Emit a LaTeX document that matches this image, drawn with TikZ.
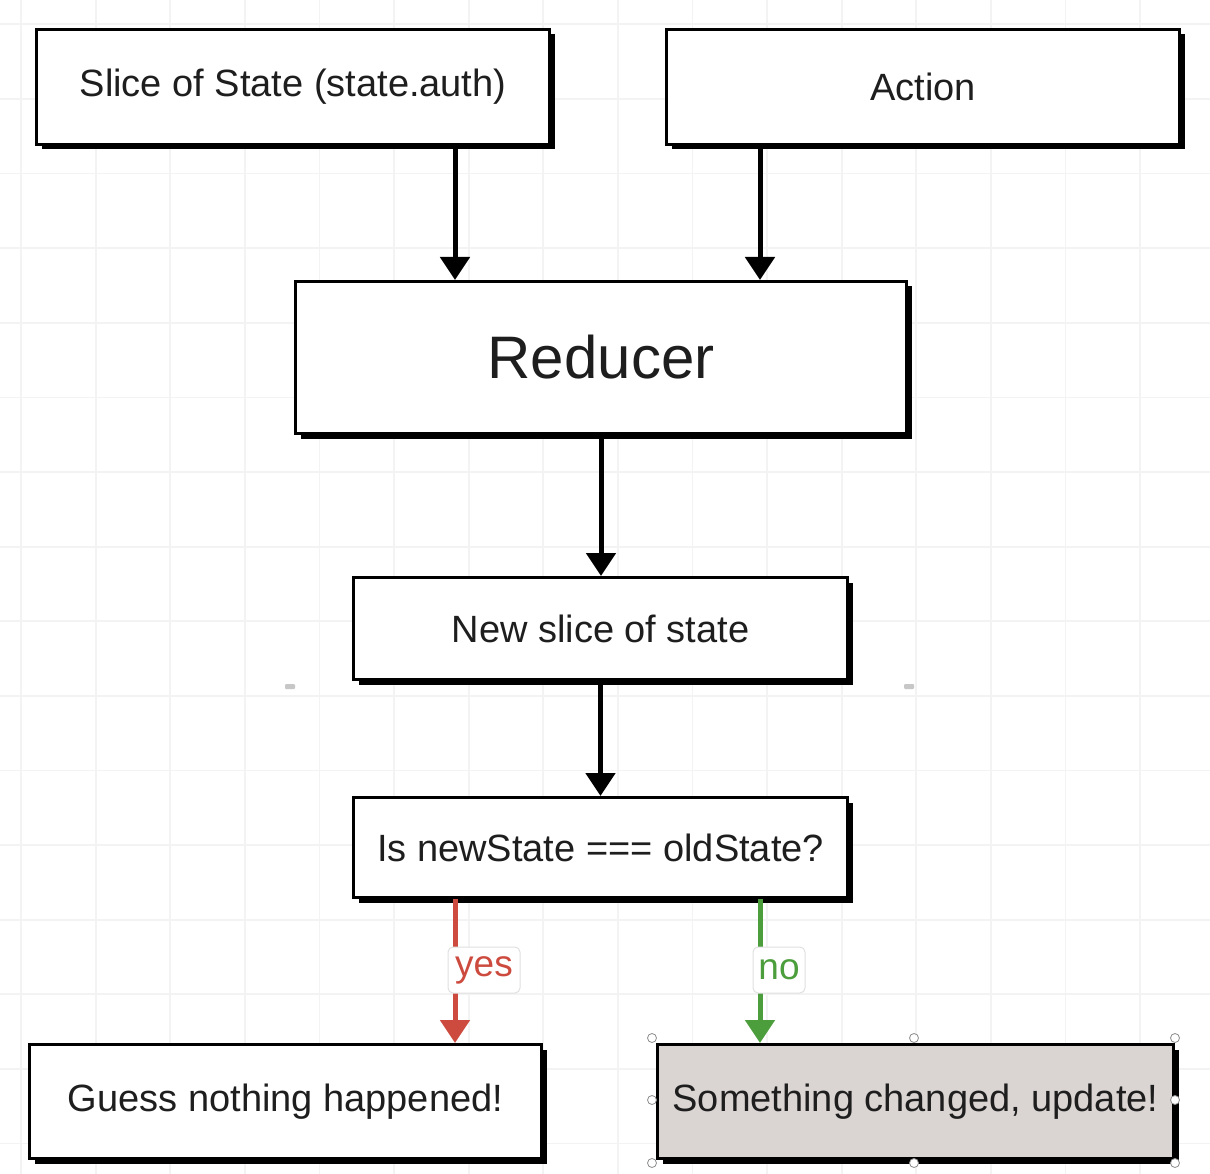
\documentclass[tikz,border=0pt]{standalone}
\usepackage{fontspec}
\setmainfont{Liberation Sans}
\usetikzlibrary{arrows.meta,shadows}
\definecolor{gridc}{HTML}{F3F3F3}
\definecolor{yesred}{HTML}{CC4A3E}
\definecolor{nogreen}{HTML}{4C9E3C}
\definecolor{selfill}{HTML}{DAD5D3}
\definecolor{txt}{HTML}{1E1E1E}
\begin{document}
\begin{tikzpicture}[x=1pt,y=-1pt,
  box/.style={draw=black, line width=3pt, fill=white, rectangle, inner sep=0pt,
    anchor=north west, text=txt, font=\fontsize{38}{44}\selectfont,
    drop shadow={shadow xshift=5pt, shadow yshift=-5pt, fill=black, opacity=1}},
  arr/.style={line width=5pt, -{Triangle[width=29pt,length=23pt]}},
  lbl/.style={fill=white, draw=black!12, line width=1pt, rounded corners=5pt,
    minimum height=46pt, inner sep=0pt, font=\fontsize{37}{40}\selectfont},
  handle/.style={circle, fill=white, draw=black!45, line width=0.8pt,
    minimum size=9pt, inner sep=0pt}]
\fill[white] (0,0) rectangle (1210,1174);
\useasboundingbox (0,0) rectangle (1210,1174);
\foreach \i in {0,...,15} {
  \draw[gridc, line width=1.8pt] ({21+74.6*\i},0) -- ({21+74.6*\i},1174);
  \draw[gridc, line width=1.8pt] (0,{24.4+74.6*\i}) -- (1210,{24.4+74.6*\i});
}
\fill[black!22, rounded corners=1pt] (285,684) rectangle (295,689);
\fill[black!22, rounded corners=1pt] (904,684) rectangle (914,689);

\node[box, minimum width=513pt, minimum height=115pt] (slice) at (35,28) {Slice of State (state.auth)};
\node[box, minimum width=513pt, minimum height=115pt] (action) at (665,28) {Action};
\node[box, minimum width=611pt, minimum height=152pt, font=\fontsize{60}{66}\selectfont] (reducer) at (294,280) {Reducer};
\node[box, minimum width=494pt, minimum height=102pt] (newslice) at (352,576) {New slice of state};
\node[box, minimum width=494pt, minimum height=100pt] (cmp) at (352,796) {Is newState === oldState?};
\node[box, minimum width=512pt, minimum height=114pt] (guess) at (28,1043) {Guess nothing happened!};
\node[box, fill=selfill, minimum width=516pt, minimum height=114pt] (changed) at (656,1043) {Something changed, update!};

\coordinate (xl) at (455,0);
\coordinate (xr) at (760,0);
\draw[arr] (slice.south -| xl) -- (reducer.north -| xl);
\draw[arr] (action.south -| xr) -- (reducer.north -| xr);
\draw[arr] (reducer.south) -- (reducer.south |- newslice.north);
\draw[arr] (newslice.south) -- (cmp.north);
\draw[arr, yesred] (cmp.south -| xl) -- (guess.north -| xl);
\draw[arr, nogreen] (cmp.south -| xr) -- (changed.north -| xr);
\node[lbl, text=yesred, minimum width=72pt] (yes) at (484,970) {yes};
\node[lbl, text=nogreen, minimum width=52pt] (no) at (779,970) {no};

\foreach \n/\x/\y in {1/652/1038, 2/914/1038, 3/1175/1038, 4/652/1100, 5/1175/1100, 6/652/1163, 7/914/1163, 8/1175/1163}
  \node[handle] (h\n) at (\x,\y) {};
\end{tikzpicture}
\end{document}
